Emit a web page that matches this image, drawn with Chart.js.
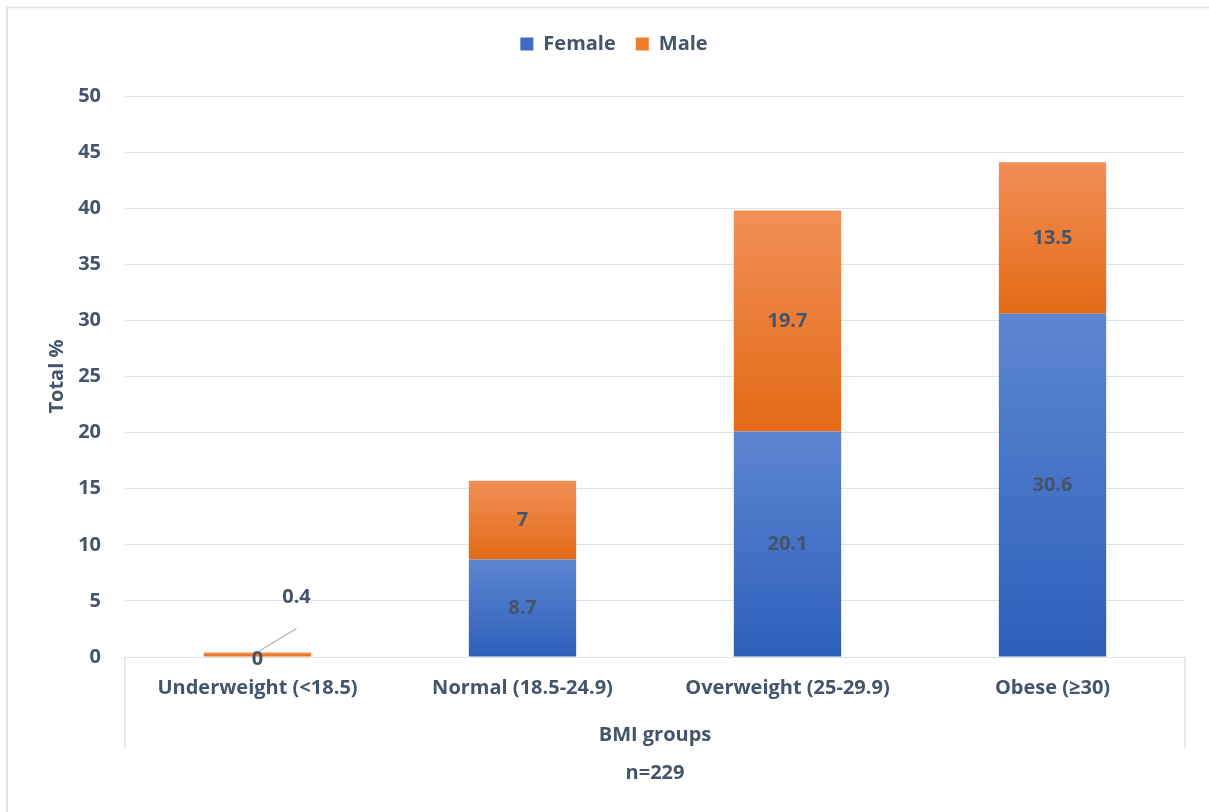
<!DOCTYPE html>
<html>
<head>
<meta charset="utf-8">
<title>BMI groups by sex</title>
<script src="https://cdn.jsdelivr.net/npm/chart.js@4.4.1/dist/chart.umd.min.js"></script>
<style>
  html, body { margin: 0; padding: 0; background: #ffffff; }
  #wrap { width: 1209px; height: 812px; }
</style>
</head>
<body>
<div id="wrap"><canvas id="chart" width="1209" height="812"></canvas></div>
<script>
// Share of respondents (%) per BMI group, split by sex
const categories = ['Underweight (<18.5)', 'Normal (18.5-24.9)', 'Overweight (25-29.9)', 'Obese (\u226530)'];
const female = [0, 8.7, 20.1, 30.6];
const male = [0.4, 7, 19.7, 13.5];
const yTicks = [0, 5, 10, 15, 20, 25, 30, 35, 40, 45, 50];

const TEXT = '#44546A';
const GRID = '#dfe3e8';
const FONT = '"Open Sans"';
const SIZE = 20;

// Vertical gradient for each stacked segment (lighter at the top)
function segmentFill(colTop, colBottom, bases, values) {
  return (ctx) => {
    const chart = ctx.chart;
    const y = chart.scales && chart.scales.y;
    if (!chart.chartArea || !y || ctx.dataIndex === undefined) return colBottom;
    const i = ctx.dataIndex;
    const b = bases ? bases[i] : 0;
    const top = y.getPixelForValue(b + values[i]);
    const bottom = y.getPixelForValue(b);
    if (!isFinite(top) || !isFinite(bottom) || Math.abs(bottom - top) < 1) return colBottom;
    const g = chart.ctx.createLinearGradient(0, top, 0, bottom);
    g.addColorStop(0, colTop);
    g.addColorStop(1, colBottom);
    return g;
  };
}

// Page frame, and the box that encloses the category axis
const framePlugin = {
  id: 'frame',
  beforeDraw(chart) {
    const c = chart.ctx;
    c.save();
    c.fillStyle = '#ffffff';
    c.fillRect(0, 0, chart.width, chart.height);
    c.strokeStyle = '#e1e4e8';
    c.lineWidth = 2;
    c.beginPath();
    c.moveTo(7, chart.height);
    c.lineTo(7, 7);
    c.stroke();
    c.lineWidth = 1.5;
    c.beginPath();
    c.moveTo(7, 7.5);
    c.lineTo(chart.width, 7.5);
    c.stroke();
    c.restore();
  },
  afterDraw(chart) {
    const c = chart.ctx;
    const a = chart.chartArea;
    c.save();
    c.strokeStyle = '#dde1e6';
    c.lineWidth = 1.5;
    c.beginPath();
    c.moveTo(a.left, a.bottom);
    c.lineTo(a.left, a.bottom + 91);
    c.moveTo(a.right, a.bottom);
    c.lineTo(a.right, a.bottom + 91);
    c.stroke();
    c.restore();
  }
};

// Value labels in the middle of every segment; very thin segments get a leader line
const valueLabels = {
  id: 'valueLabels',
  afterDatasetsDraw(chart) {
    const c = chart.ctx;
    c.save();
    c.font = 'bold ' + SIZE + 'px ' + FONT;
    c.fillStyle = TEXT;
    c.textAlign = 'center';
    c.textBaseline = 'middle';
    chart.data.datasets.forEach((ds, di) => {
      const meta = chart.getDatasetMeta(di);
      meta.data.forEach((bar, i) => {
        const v = ds.data[i];
        const h = Math.abs(bar.base - bar.y);
        const cx = bar.x;
        const cy = (bar.y + bar.base) / 2;
        if (h < 8 && di > 0) {
          c.save();
          c.strokeStyle = '#a9b4c4';
          c.lineWidth = 1.2;
          c.beginPath();
          c.moveTo(cx + 1, cy - 3);
          c.lineTo(cx + 39, cy - 26);
          c.stroke();
          c.restore();
          c.fillText(String(v), cx + 39, cy - 57);
        } else {
          c.fillText(String(v), cx, cy + (h < 8 ? 2 : 0));
        }
      });
    });
    c.restore();
  }
};

const boldFont = { family: FONT, size: SIZE, weight: 'bold' };

new Chart(document.getElementById('chart'), {
  type: 'bar',
  data: {
    labels: categories,
    datasets: [
      {
        label: 'Female',
        data: female,
        backgroundColor: segmentFill('#5d86d1', '#2d5fba', null, female),
        borderWidth: 0
      },
      {
        label: 'Male',
        data: male,
        backgroundColor: segmentFill('#f28f57', '#e36a16', female, male),
        borderWidth: 0
      }
    ]
  },
  options: {
    responsive: false,
    animation: false,
    devicePixelRatio: 1,
    layout: { padding: { top: 14, left: 43, right: 24, bottom: 0 } },
    datasets: { bar: { categoryPercentage: 1, barPercentage: 0.405 } },
    plugins: {
      legend: {
        position: 'top',
        labels: {
          boxWidth: 13,
          boxHeight: 13,
          padding: 20,
          color: TEXT,
          font: boldFont,
          generateLabels(chart) {
            const tops = ['#3f6cc4', '#ef7b2d'];
            return chart.data.datasets.map((ds, i) => ({
              text: ds.label,
              fillStyle: tops[i],
              strokeStyle: tops[i],
              lineWidth: 0,
              fontColor: TEXT,
              datasetIndex: i
            }));
          }
        }
      },
      subtitle: {
        display: true,
        text: '',
        position: 'top',
        weight: 500,
        font: { size: 10 },
        padding: { top: 20, bottom: 0 }
      },
      title: {
        display: true,
        text: 'n=229',
        position: 'bottom',
        fullSize: false,
        color: TEXT,
        font: boldFont,
        padding: { top: 0, bottom: 27 }
      },
      tooltip: { enabled: false }
    },
    scales: {
      x: {
        stacked: true,
        grid: { display: false, drawTicks: false },
        border: { display: false },
        ticks: {
          color: TEXT,
          padding: 19,
          maxRotation: 0,
          font: boldFont
        },
        title: {
          display: true,
          text: 'BMI groups',
          color: TEXT,
          font: boldFont,
          padding: { top: 0, bottom: 14 }
        },
        afterFit(scale) { scale.height = 104; }
      },
      y: {
        stacked: true,
        min: 0,
        max: 50,
        afterBuildTicks(scale) { scale.ticks = yTicks.map(v => ({ value: v })); },
        grid: { color: GRID, lineWidth: 1, drawTicks: false },
        border: { display: false },
        ticks: {
          color: TEXT,
          padding: 24,
          font: boldFont
        },
        title: {
          display: true,
          text: 'Total %',
          color: TEXT,
          font: boldFont,
          padding: { top: 2, bottom: 0 }
        },
        afterFit(scale) { scale.width = 82; }
      }
    }
  },
  plugins: [framePlugin, valueLabels]
});
</script>
</body>
</html>
